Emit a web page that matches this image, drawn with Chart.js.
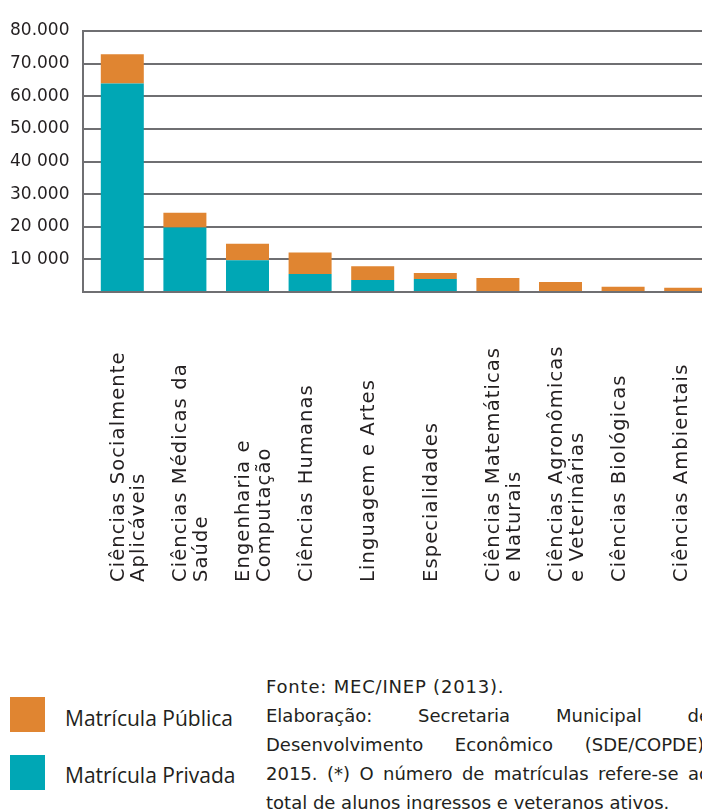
<!DOCTYPE html>
<html>
<head>
<meta charset="utf-8">
<script src="https://cdn.jsdelivr.net/npm/chart.js@4.4.0/dist/chart.umd.min.js"></script>
<style>
  body { margin: 0; background: #fff; overflow: hidden; width: 702px; height: 810px; position: relative; }
  #wrap { position: absolute; left: 0; top: 0; width: 720px; height: 600px; }
  .sq { position: absolute; left: 10px; width: 35px; height: 35px; }
  .leg { position: absolute; left: 65px; font: 21px "Open Sans"; color: #231f20; line-height: 24px; }
  #fonte { position: absolute; left: 266px; top: 672px; width: 444px; font: 18px "DejaVu Sans"; color: #231f20; line-height: 29px; }
  #fonte .j { text-align: justify; text-align-last: justify; white-space: nowrap; }
</style>
</head>
<body>
<div id="wrap"><canvas id="grafico"></canvas></div>

<div class="sq" style="top:697px;background:#e08531"></div>
<div class="leg" style="top:706px">Matrícula Pública</div>
<div class="sq" style="top:755px;background:#00a7b5"></div>
<div class="leg" style="top:763px">Matrícula Privada</div>

<div id="fonte">
  <div style="letter-spacing:0.8px">Fonte: MEC/INEP (2013).</div>
  <div class="j">Elaboração: Secretaria Municipal de</div>
  <div class="j">Desenvolvimento Econômico (SDE/COPDE),</div>
  <div class="j">2015. (*) O número de matrículas refere-se ao</div>
  <div>total de alunos ingressos e veteranos ativos.</div>
</div>

<script>
var areas = [
  ["Ciências Socialmente", "Aplicáveis"],
  ["Ciências Médicas da", "Saúde"],
  ["Engenharia e", "Computação"],
  ["Ciências Humanas"],
  ["Linguagem e Artes"],
  ["Especialidades"],
  ["Ciências Matemáticas", "e Naturais"],
  ["Ciências Agronômicas", "e Veterinárias"],
  ["Ciências Biológicas"],
  ["Ciências Ambientais"]
];
var privada = [63900, 19800, 9700, 5500, 3700, 4000, 0, 0, 0, 0];
var publica = [9000, 4500, 5100, 6600, 4200, 1800, 4300, 3100, 1600, 1300];
var yTicks = ["", "10 000", "20 000", "30.000", "40 000", "50.000", "60.000", "70.000", "80.000"];

var cinza = '#6f6f72';

// rotated category labels, anchored at the bottom like the original
var rotulos = {
  id: 'rotulos',
  afterDraw: function(chart) {
    var ctx = chart.ctx, xs = chart.scales.x;
    ctx.save();
    ctx.font = '19.5px "DejaVu Sans"';
    ctx.letterSpacing = '1.1px';
    ctx.fillStyle = '#231f20';
    ctx.textAlign = 'left';
    ctx.textBaseline = 'alphabetic';
    areas.forEach(function(linhas, i) {
      var x = xs.getPixelForValue(i);
      ctx.save();
      ctx.translate(x + 1.5, 582);
      ctx.rotate(-Math.PI / 2);
      linhas.forEach(function(t, j) { ctx.fillText(t, 0, j * 20.5); });
      ctx.restore();
    });
    // left frame line
    var ys = chart.scales.y;
    ctx.strokeStyle = cinza;
    ctx.lineWidth = 2;
    ctx.beginPath();
    ctx.moveTo(chart.chartArea.left - 8, ys.getPixelForValue(80000) - 1);
    ctx.lineTo(chart.chartArea.left - 8, ys.getPixelForValue(0) + 1);
    ctx.stroke();
    ctx.restore();
  }
};

var ctx = document.getElementById("grafico");

var barras = new Chart(ctx, {
  type: 'bar',
  data: {
    labels: areas.map(function(a) { return a.join(' '); }),
    datasets: [{
      label: 'Matrícula Privada',
      data: privada,
      backgroundColor: '#00a7b5',
      barPercentage: 0.687,
      categoryPercentage: 1
    }, {
      label: 'Matrícula Pública',
      data: publica,
      backgroundColor: '#e08531',
      barPercentage: 0.687,
      categoryPercentage: 1
    }]
  },
  options: {
    responsive: true,
    maintainAspectRatio: false,
    animation: false,
    layout: { padding: { top: 31, left: 10, right: 3, bottom: 0 } },
    plugins: { legend: { display: false }, tooltip: { enabled: false } },
    scales: {
      x: {
        stacked: true,
        grid: { display: false },
        border: { display: false },
        ticks: { display: false },
        afterFit: function(s) { s.height = 308; }
      },
      y: {
        stacked: true,
        min: 0,
        max: 80000,
        afterFit: function(s) { s.width = 81; },
        ticks: {
          stepSize: 10000,
          crossAlign: 'far',
          color: '#231f20',
          font: { family: 'DejaVu Sans', size: 17 },
          callback: function(v) { return yTicks[v / 10000]; }
        },
        grid: { color: cinza, lineWidth: 2, tickLength: 8, drawTicks: true },
        border: { display: false }
      }
    }
  },
  plugins: [rotulos]
});
</script>
</body>
</html>
